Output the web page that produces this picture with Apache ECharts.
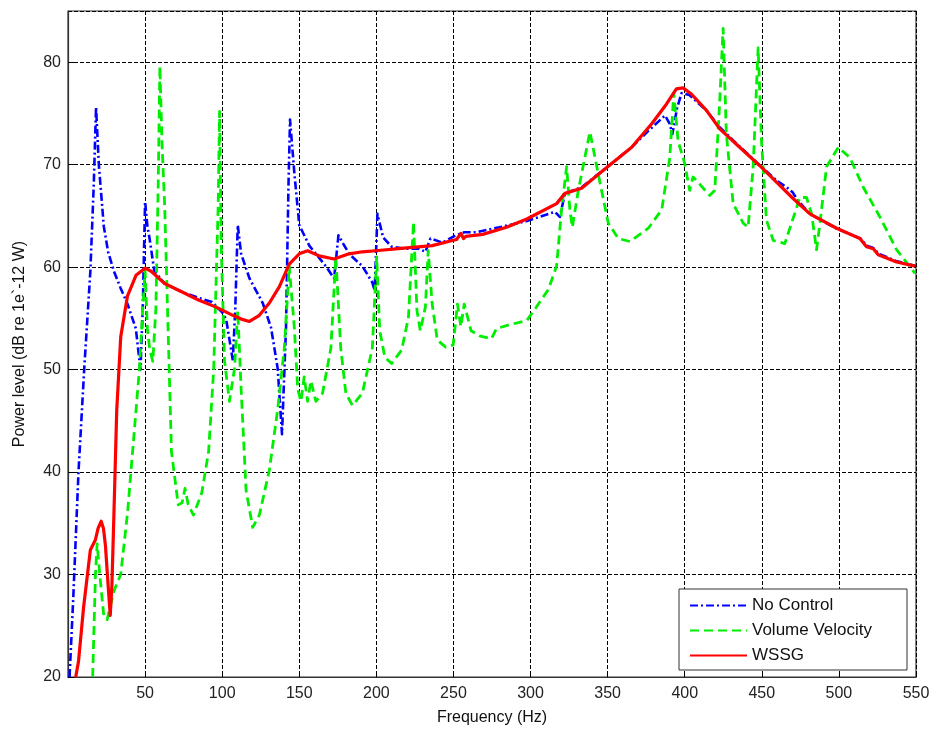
<!DOCTYPE html>
<html>
<head>
<meta charset="utf-8">
<script src="https://cdn.jsdelivr.net/npm/echarts@6/dist/echarts.min.js"></script>
<style>
  html, body { margin: 0; padding: 0; background: #fff; }
  #chart { width: 933px; height: 731px; }
</style>
</head>
<body>
<div id="chart"></div>
<script>
    var seriesNames = ['No Control', 'Volume Velocity', 'WSSG'];
    var yTicks = [20, 30, 40, 50, 60, 70, 80];
    var xTicks = [50, 100, 150, 200, 250, 300, 350, 400, 450, 500, 550];

    // No Control (blue, dash-dot)
    var noControlHz = [1, 3.5, 6.8, 10.5, 14.5, 16.7, 18.2, 20, 23.2, 26, 29.8, 34, 38.6, 44, 47, 48.5, 50, 51.5, 52.9, 56,
        62.7, 73.7, 84.6, 93.4, 100, 102.6, 106.9, 108.5, 110.1, 112.3, 117.7, 126.3, 131.7, 136, 138.8, 141.4, 143, 144,
        146.8, 150, 156.5, 167.2, 172.6, 175.4, 182.3, 190.9, 197.4, 198.9, 200.7, 204.4, 209.9, 218.6, 227.4, 231.8,
        235.1, 242.8, 251.5, 257, 264.7, 280, 297.6, 315.8, 319, 322.3, 333.1, 350, 365.6, 376.4, 387.2, 390.2, 392,
        395, 398, 403, 414, 423, 434, 449, 460, 466, 470, 473, 481, 498, 514, 518, 522, 526, 537, 550];
    var noControlDb = [20, 28, 40, 50, 59.6, 68, 75.6, 70, 64, 61.5, 59.6, 58, 56.4, 54, 50, 56, 66.4, 64, 62.8, 59.6,
        58.4, 57.6, 57, 56.6, 55.6, 54.9, 50.9, 56, 64.1, 61.3, 58.9, 56.5, 54.1, 50.1, 43.7, 54.1, 68, 74.4,
        69.2, 64.1, 62.1, 60.1, 58.9, 63.1, 61.3, 60.1, 58.5, 57.7, 65.2, 62.9, 62, 61.8, 61.8, 61.5,
        62.8, 62.4, 63.1, 63.4, 63.4, 63.9, 64.5, 65.4, 64.9, 67.2, 67.8, 69.8, 71.7, 73.3, 74.8, 74, 73,
        75.5, 77, 76.8, 75.3, 73.6, 72, 69.9, 68.4, 67.8, 67.3, 66.6, 65.2, 63.8, 62.8, 62.1, 61.9, 61.3, 60.6, 60.1];

    // Volume Velocity (green, dashed)
    var volVelHz = [16, 17.8, 18.9, 20.6, 23.2, 25.4, 29.8, 34.2, 38.6, 43, 46.3, 48.5, 50, 51.5, 53, 55, 57, 58.5, 59.6,
        61, 62.7, 64.9, 67.1, 71.5, 74, 75.9, 78, 81.4, 86.8, 91.2, 94.5, 97.4, 98.3, 99.4, 101.5, 104.7, 108, 110.1,
        112.3, 115.5, 119.8, 124.1, 130.6, 136, 140.3, 143.5, 146.8, 149, 151.1, 153.2, 155.4, 157.5, 160.8, 165.1,
        170.5, 173.7, 176.9, 180.2, 184.5, 190.9, 197.4, 200.2, 202.2, 205.5, 209.9, 216.4, 220.8, 224.1, 226.3,
        228.5, 231.8, 233.6, 236.2, 239.5, 245, 249.8, 252.6, 254.8, 257, 261.4, 266.9, 274.6, 277.9, 284.4, 297.6,
        302.8, 311.5, 316.9, 320.1, 323.4, 325.5, 327.1, 331, 338.5, 343.9, 350.4, 356.9, 364.5, 376.4, 385.1,
        390.3, 392.9, 395.7, 400, 403.2, 405.4, 409.7, 416.2, 419.5, 422.7, 424.9, 427, 431.4, 437.9, 441.1, 444.4,
        447.6, 449.8, 453, 457.4, 464.9, 469.3, 474.7, 479, 482.3, 485.5, 487.7, 492, 499.6, 507.1, 515.8, 526.6,
        537.4, 549.4];
    var volVelDb = [20, 30, 33, 30, 26, 25.6, 28.4, 30, 36, 44, 50, 56, 59.6, 54, 52, 50.8, 56, 68, 79.6,
        72, 66, 54, 42, 36.8, 37, 38.4, 36.8, 35.8, 38, 42, 50, 66, 75.2, 62.1, 50.9, 46.9, 50.1, 55.7,
        48.1, 38.2, 34.6, 35.8, 40.2, 46.1, 52.1, 60.1, 54.1, 48.1, 46.9, 49.3, 46.9, 48.9, 46.9, 47.7,
        52.1, 61, 52.1, 47.7, 46.5, 47.7, 52.1, 61, 53.8, 51.2, 50.6, 51.9, 55.1, 64.4, 55.8,
        53.8, 56.1, 61.6, 56.4, 52.9, 52.2, 52.4, 56.4, 54.2, 56.4, 53.8, 53.3, 53, 54, 54.3, 54.8,
        55.9, 57.8, 60.1, 65.6, 69.8, 65.6, 63.9, 67.5, 73.2, 69.1, 64.3, 62.8, 62.5, 63.8, 65.6,
        70.7, 77, 72.3, 70.1, 67.5, 68.8, 68.1, 67, 67.5, 76.2, 83.3, 73, 66.2, 64.3, 63.9, 69.8,
        81.4, 72.3, 64.6, 62.6, 62.3, 64.3, 66.8, 66.8, 65.2, 61.7, 64.3, 69.8, 71.7, 70.7, 67.8, 64.9,
        61.7, 59.4];

    // WSSG (red, solid)
    var wssgHz = [5, 6.8, 10.1, 14.5, 17.8, 19.5, 21.5, 23, 24.3, 26, 27.4, 28.5, 29.8, 31.6, 34.2, 38.6, 44.1, 50, 53.9,
        62.7, 73.7, 84.6, 96.1, 106.9, 113, 117.7, 124.1, 130.6, 137.1, 143.5, 150, 155.4, 162.9, 172.6, 182.3,
        190.9, 199.6, 214.3, 236.2, 249.3, 252, 254.8, 256.5, 258, 269, 284.4, 297.6, 316.9, 322.3, 333.1, 350,
        365.6, 378.6, 388.1, 394.6, 398.9, 404.3, 414.1, 422.7, 433.5, 448.7, 459.5, 470.3, 481.2, 498.5, 513.6,
        517.9, 522.3, 525.5, 537.4, 549.4];
    var wssgDb = [20, 21.5, 26.8, 32.4, 33.4, 34.5, 35.2, 34.5, 32.8, 29, 26, 29, 36, 46, 53.2, 57.2, 59.2, 59.9, 59.6,
        58.4, 57.6, 56.8, 56.1, 55.3, 54.9, 54.7, 55.3, 56.5, 58.1, 60.3, 61.3, 61.6, 61.1, 60.8, 61.3,
        61.5, 61.6, 61.8, 62.1, 62.6, 62.7, 63.3, 62.8, 63, 63.2, 63.9, 64.7, 66.2, 67.2, 67.7, 69.8,
        71.7, 74, 75.9, 77.4, 77.5, 76.9, 75.3, 73.5, 72, 69.9, 68.3, 66.7, 65.2, 63.8, 62.8,
        62, 61.8, 61.2, 60.5, 60.1];

    var FONT = '"Liberation Sans", Arial, sans-serif';

    function pairs(xs, ys) {
        var out = [];
        for (var i = 0; i < xs.length; i++) {
            out.push([xs[i], ys[i]]);
        }
        return out;
    }

    function lineSeries(name, data, color, width, dash) {
        return {
            name: name,
            type: 'line',
            data: data,
            symbol: 'none',
            showSymbol: false,
            smooth: false,
            clip: true,
            lineStyle: {color: color, width: width, type: dash, join: 'round', cap: 'butt'},
            itemStyle: {color: color}
        };
    }

    var gridLine = {show: true, lineStyle: {color: '#000', width: 1, type: [4, 2]}};

    var option = {
        animation: false,
        backgroundColor: '#fff',
        textStyle: {fontFamily: FONT},
        grid: {
            left: 68, top: 11, right: 17, bottom: 52,
            show: true, borderColor: '#333', borderWidth: 1.2, backgroundColor: '#fff'
        },
        legend: {
            data: seriesNames,
            orient: 'vertical',
            left: 679,
            top: 589,
            padding: [8, 35, 6, 10],
            itemGap: 8,
            itemWidth: 57,
            itemHeight: 14,
            backgroundColor: '#fff',
            borderColor: '#333',
            borderWidth: 1,
            borderRadius: 0,
            itemStyle: {color: 'rgba(0,0,0,0)', borderWidth: 0},
            textStyle: {fontSize: 17, color: '#111', fontFamily: FONT}
        },
        xAxis: {
            type: 'value',
            min: 0,
            max: 550,
            interval: 50,
            name: 'Frequency (Hz)',
            nameLocation: 'middle',
            nameGap: 33,
            nameTextStyle: {fontSize: 16, color: '#111', fontFamily: FONT},
            axisLine: {show: true, onZero: false, lineStyle: {color: '#333', width: 1.2}},
            axisTick: {show: true, inside: true, length: 6, lineStyle: {color: '#000'}},
            axisLabel: {
                showMinLabel: false,
                fontSize: 16, color: '#222', margin: 9, fontFamily: FONT,
                formatter: function (v) { return xTicks.indexOf(v) >= 0 ? String(v) : ''; }
            },
            splitLine: gridLine
        },
        yAxis: {
            type: 'value',
            min: 20,
            max: 85,
            interval: 10,
            name: 'Power level (dB re 1e`-12 W)',
            nameLocation: 'middle',
            nameGap: 40,
            nameTextStyle: {fontSize: 16, color: '#111', fontFamily: FONT},
            axisLine: {show: true, onZero: false, lineStyle: {color: '#333', width: 1.2}},
            axisTick: {show: true, inside: true, length: 6, lineStyle: {color: '#000'}},
            axisLabel: {
                showMaxLabel: false,
                fontSize: 16, color: '#222', margin: 7, fontFamily: FONT,
                formatter: function (v) { return yTicks.indexOf(v) >= 0 ? String(v) : ''; }
            },
            splitLine: gridLine
        },
        series: [
            lineSeries(seriesNames[0], pairs(noControlHz, noControlDb), '#0000ff', 2.6, [8, 3, 2, 3]),
            lineSeries(seriesNames[1], pairs(volVelHz, volVelDb), '#00ee00', 2.8, [9, 5]),
            lineSeries(seriesNames[2], pairs(wssgHz, wssgDb), '#ff0000', 3.2, 'solid')
        ]
    };

    var chart = echarts.init(document.getElementById('chart'));
    chart.setOption(option);
</script>
</body>
</html>
